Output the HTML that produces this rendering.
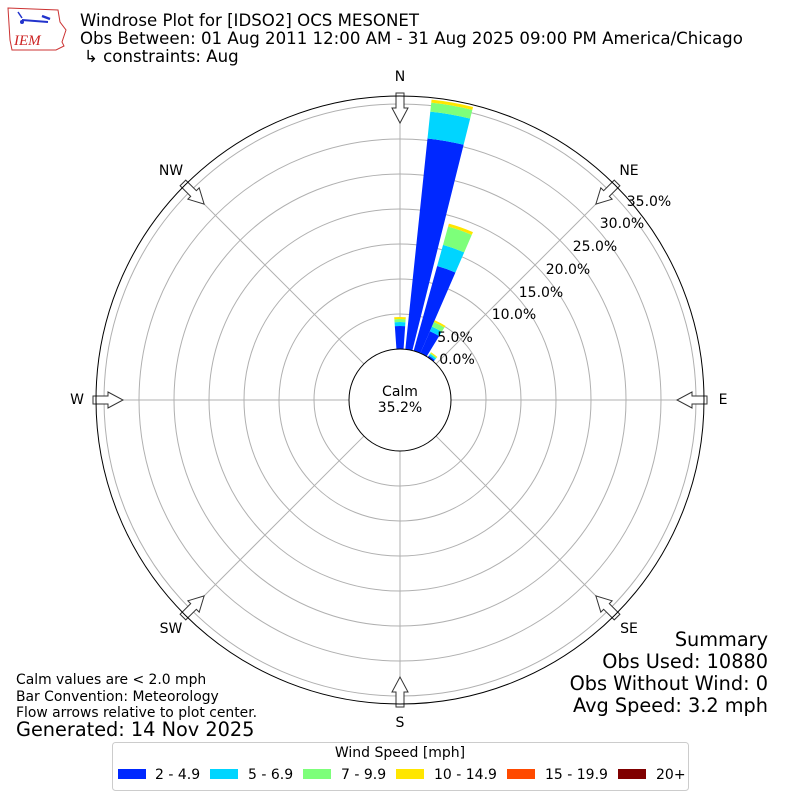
<!DOCTYPE html>
<html><head><meta charset="utf-8"><style>
html,body{margin:0;padding:0;background:#fff;}
body{width:800px;height:800px;position:relative;overflow:hidden;font-family:"DejaVu Sans","Liberation Sans",sans-serif;}
svg{position:absolute;left:0;top:0;}
</style></head><body>
<svg id="s" width="800" height="800" viewBox="0 0 800 800" font-family="DejaVu Sans, Liberation Sans, sans-serif">
<g id="logo">
<path d="M8 8 L58 10 L60 22 L66 30 L62 42 L64 46 L56 50 L12 50 L10 40 Z" fill="none" stroke="#c33" stroke-width="1"/>
<line x1="22" y1="20" x2="48" y2="22" stroke="#23c" stroke-width="2"/>
<circle cx="22" cy="22" r="2" fill="#23c"/>
<path d="M18 12 L22 18" stroke="#23c" stroke-width="1.5"/>
<path d="M42 16 L50 19" stroke="#23c" stroke-width="2.5"/>
<text x="14" y="45" font-family="Liberation Serif, serif" font-style="italic" font-size="15" fill="#c22">IEM</text>
</g>
<text x="80" y="26" font-size="16.6">Windrose Plot for [IDSO2] OCS MESONET</text>
<text x="80" y="44" font-size="16.6">Obs Between: 01 Aug 2011 12:00 AM - 31 Aug 2025 09:00 PM America/Chicago</text>
<text x="84" y="62" font-size="16.6">↳ constraints: Aug</text>
<g id="grid"></g>
<g id="bars"></g>
<g id="arrows"></g>
<circle cx="400" cy="400" r="51" fill="#fff" stroke="#000" stroke-width="1"/>
<circle cx="400" cy="400" r="304" fill="none" stroke="#000" stroke-width="1"/>
<text x="400" y="396" font-size="14" text-anchor="middle">Calm</text>
<text x="400" y="412" font-size="14" text-anchor="middle">35.2%</text>
<g font-size="14" text-anchor="middle">
<text x="400" y="81">N</text><text x="629" y="175">NE</text><text x="723" y="404">E</text>
<text x="629" y="633">SE</text><text x="400" y="727">S</text><text x="171" y="633">SW</text>
<text x="77" y="404">W</text><text x="171" y="175">NW</text>
</g>
<g font-size="14" text-anchor="middle">
<text x="457" y="364">0.0%</text><text x="455" y="342">5.0%</text><text x="514" y="319">10.0%</text>
<text x="541" y="297">15.0%</text><text x="568" y="274">20.0%</text><text x="595" y="251">25.0%</text>
<text x="622" y="228">30.0%</text><text x="649" y="206">35.0%</text>
</g>
<g font-size="19.3" text-anchor="end">
<text x="768" y="646">Summary</text><text x="768" y="668">Obs Used: 10880</text>
<text x="768" y="690">Obs Without Wind: 0</text><text x="768" y="712">Avg Speed: 3.2 mph</text>
</g>
<g font-size="13.9">
<text x="16" y="684">Calm values are &lt; 2.0 mph</text>
<text x="16" y="701">Bar Convention: Meteorology</text>
<text x="16" y="717">Flow arrows relative to plot center.</text>
</g>
<text x="16" y="736" font-size="19.3">Generated: 14 Nov 2025</text>
<rect x="112.5" y="742.5" width="576" height="48" rx="3" fill="#fff" stroke="#ccc"/>
<text x="400" y="757" font-size="14" text-anchor="middle">Wind Speed [mph]</text>
<g font-size="14">
<rect x="118" y="769" width="28" height="10" fill="#0028ff"/><text x="155" y="779">2 - 4.9</text>
<rect x="210" y="769" width="28" height="10" fill="#00d5ff"/><text x="248" y="779">5 - 6.9</text>
<rect x="303" y="769" width="28" height="10" fill="#7dff7a"/><text x="341" y="779">7 - 9.9</text>
<rect x="396" y="769" width="28" height="10" fill="#ffe600"/><text x="434" y="779">10 - 14.9</text>
<rect x="507" y="769" width="28" height="10" fill="#ff4a00"/><text x="545" y="779">15 - 19.9</text>
<rect x="618" y="769" width="28" height="10" fill="#800000"/><text x="656" y="779">20+</text>
</g>
</svg>
<script>
var NS="http://www.w3.org/2000/svg",cx=400,cy=400;
function el(t,a,p){var e=document.createElementNS(NS,t);for(var k in a)e.setAttribute(k,a[k]);document.getElementById(p).appendChild(e);return e;}
for(var k=1;k<=7;k++)el("circle",{cx:cx,cy:cy,r:51+35*k,fill:"none",stroke:"#b0b0b0","stroke-width":1},"grid");
for(var a=0;a<360;a+=45){var t=a*Math.PI/180;el("line",{x1:cx+51*Math.sin(t),y1:cy-51*Math.cos(t),x2:cx+304*Math.sin(t),y2:cy-304*Math.cos(t),stroke:"#b0b0b0","stroke-width":1},"grid");}
function P(r,d){var t=d*Math.PI/180;return (cx+r*Math.sin(t)).toFixed(2)+","+(cy-r*Math.cos(t)).toFixed(2);}
function wedge(c,w,r0,r1,col){var a0=c-w/2,a1=c+w/2;
el("path",{d:"M"+P(r0,a0)+" A"+r0+","+r0+" 0 0 1 "+P(r0,a1)+" L"+P(r1,a1)+" A"+r1+","+r1+" 0 0 0 "+P(r1,a0)+"Z",fill:col},"bars");}
var cols=["#0028ff","#00d5ff","#7dff7a","#ffe600"];
var bars=[[0,[74,78,81,83]],[10,[263,290,299,302]],[19.5,[139,161,180,183]],[27.5,[75,80,85,87]],[37,[53,55,56,57]]];
bars.forEach(function(b){var r=51;b[1].forEach(function(v,i){wedge(b[0],8,r,v,cols[i]);r=v;});});
for(var a=0;a<360;a+=45){
el("path",{d:"M-4,-307 L4,-307 L4,-292 L8,-292 L0,-277 L-8,-292 L-4,-292 Z",fill:"#fff",stroke:"#333","stroke-width":1,transform:"translate(400,400) rotate("+a+")"},"arrows");}
</script>
</body></html>
